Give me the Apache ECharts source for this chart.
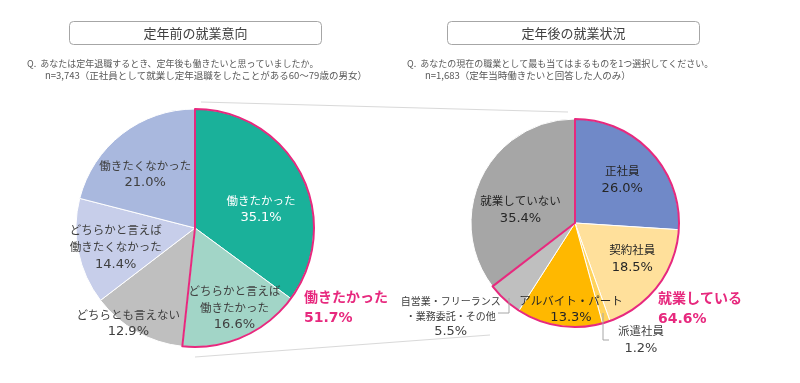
<!DOCTYPE html>
<html>
<head>
<meta charset="utf-8">
<script src="https://cdn.jsdelivr.net/npm/echarts@6/dist/echarts.min.js"></script>
<style>
html,body{margin:0;padding:0;background:#fff;}
#chart{width:800px;height:383px;}
</style>
</head>
<body>
<div id="chart"></div>
<script>
// ---- data ----
const leftTitle = '定年前の就業意向';
const rightTitle = '定年後の就業状況';
const leftQuestion = ['Q.  あなたは定年退職するとき、定年後も働きたいと思っていましたか。', 'n=3,743（正社員として就業し定年退職をしたことがある60～79歳の男女）'];
const rightQuestion = ['Q.  あなたの現在の職業として最も当てはまるものを1つ選択してください。', 'n=1,683（定年当時働きたいと回答した人のみ）'];

const leftCategories = ['働きたかった', 'どちらかと言えば\n働きたかった', 'どちらとも言えない', 'どちらかと言えば\n働きたくなかった', '働きたくなかった'];
const leftValues = [35.1, 16.6, 12.9, 14.4, 21.0];
const leftGroupLabel = '働きたかった';
const leftGroupValue = 51.7;
const leftGroupCount = 2;

const rightCategories = ['正社員', '契約社員', '派遣社員', 'アルバイト・パート', '自営業・フリーランス\n・業務委託・その他', '就業していない'];
const rightValues = [26.0, 18.5, 1.2, 13.3, 5.5, 35.4];
const rightGroupLabel = '就業している';
const rightGroupValue = 64.6;
const rightGroupCount = 5;

// ---- styles / layout ----
const leftColors = ['#1AB19A', '#A2D5C7', '#BFBFBF', '#C7CEEA', '#A9B8DE'];
const leftLabelColors = ['#ffffff', '#404040', '#404040', '#404040', '#404040'];
const leftOffsets = [[-8, 19], [6, 4], [-26, 23], [2, 3], [1, 12]];
const rightColors = ['#7089C8', '#FFE09B', '#FFD35C', '#FFB800', '#BFBFBF', '#A6A6A6'];
const rightLabelColors = ['#262626', '#262626', '#404040', '#262626', '#404040', '#262626'];
const rightOffsets = [[-6, 7], [-1, -8], [44, 47], [7, 14], [-75, 40], [11, 19]];
const rightNameSize = [11.5, 11.5, 11.5, 11.5, 10, 11.5];
const rightLineHeight = [17, 17, 17, 17, 15, 17];

const PINK = '#E7297E';
const LC = [195, 228], LR = 119;
const RC = [575, 223], RR = 104;
const JP = '"Noto Sans CJK JP", "Noto Sans", sans-serif';
const NUM = '"DejaVu Sans", "Noto Sans CJK JP", sans-serif';

function richLabel(name, value) {
  const lines = name.split('\n').map(l => '{n|' + l + '}');
  return lines.join('\n') + '\n{p|' + value.toFixed(1) + '%}';
}

function mainPie(center, radius, cats, vals, colors) {
  return {
    type: 'pie', center: center, radius: radius, startAngle: 90, clockwise: true,
    silent: true, animation: false, label: {show: false}, labelLine: {show: false},
    itemStyle: {borderColor: '#ffffff', borderWidth: 1},
    data: cats.map((c, i) => ({name: c, value: vals[i], itemStyle: {color: colors[i]}})),
    z: 2
  };
}

function labelPie(center, r0, r1, cats, vals, labelColors, offsets, nameSizes, lineHeights) {
  return {
    type: 'pie', center: center, radius: [r0, r1], startAngle: 90, clockwise: true,
    silent: true, animation: false, avoidLabelOverlap: false, labelLine: {show: false},
    data: cats.map((c, i) => {
      const ns = nameSizes ? nameSizes[i] : 11.5;
      const lh = lineHeights ? lineHeights[i] : 17;
      return {
        name: c, value: vals[i],
        itemStyle: {color: 'rgba(0,0,0,0)', borderWidth: 0},
        label: {
          show: true, position: 'inside', offset: offsets[i],
          formatter: () => richLabel(c, vals[i]),
          rich: {
            n: {fontFamily: JP, fontSize: ns, color: labelColors[i], lineHeight: lh, align: 'center'},
            p: {fontFamily: NUM, fontSize: 13, color: labelColors[i], lineHeight: lh + 1, align: 'center'}
          }
        }
      };
    }),
    z: 5
  };
}

function outlinePie(center, radius, vals, count) {
  const inGroup = vals.slice(0, count).reduce((a, b) => a + b, 0);
  const rest = vals.slice(count).reduce((a, b) => a + b, 0);
  return {
    type: 'pie', center: center, radius: radius, startAngle: 90, clockwise: true,
    silent: true, animation: false, label: {show: false}, labelLine: {show: false},
    data: [
      {value: inGroup, itemStyle: {color: 'rgba(0,0,0,0)', borderColor: PINK, borderWidth: 2}},
      {value: rest, itemStyle: {color: 'rgba(0,0,0,0)', borderWidth: 0}}
    ],
    z: 4
  };
}

function titleBox(x, y, w, h, text) {
  return {
    type: 'group', left: x, top: y,
    children: [
      {type: 'rect', shape: {x: 0, y: 0, width: w, height: h, r: 4},
       style: {fill: '#ffffff', stroke: '#A6A6A6', lineWidth: 1}},
      {type: 'text', x: w / 2, y: h / 2,
       style: {text: text, fill: '#404040', font: '13px ' + JP, textAlign: 'center', textVerticalAlign: 'middle'}}
    ]
  };
}

function qText(x1, x2, y1, y2, lines) {
  return [
    {type: 'text', left: x1, top: y1, style: {text: lines[0], fill: '#595959', font: '9px ' + JP}},
    {type: 'text', left: x2, top: y2, style: {text: lines[1], fill: '#595959', font: '9.5px ' + JP}}
  ];
}

function groupText(x, y, label, value) {
  return {
    type: 'text', left: x, top: y,
    style: {
      text: '{a|' + label + '}\n{b|' + value.toFixed(1) + '%}',
      rich: {
        a: {fontFamily: JP, fontWeight: 'bold', fontSize: 14, fill: PINK, color: PINK, lineHeight: 21},
        b: {fontFamily: NUM, fontWeight: 'bold', fontSize: 14, fill: PINK, color: PINK, lineHeight: 21}
      }
    }
  };
}

const chart = echarts.init(document.getElementById('chart'), null, {renderer: 'canvas'});
const lineStyle = {stroke: '#D9D9D9', lineWidth: 1};
const leaderStyle = {stroke: '#A6A6A6', lineWidth: 1, fill: null};

chart.setOption({
  backgroundColor: '#ffffff',
  animation: false,
  series: [
    mainPie(LC, LR, leftCategories, leftValues, leftColors),
    outlinePie(LC, LR, leftValues, leftGroupCount),
    labelPie(LC, 40, 120, leftCategories, leftValues, leftLabelColors, leftOffsets, null, null),
    mainPie(RC, RR, rightCategories, rightValues, rightColors),
    outlinePie(RC, RR, rightValues, rightGroupCount),
    labelPie(RC, 30, 110, rightCategories, rightValues, rightLabelColors, rightOffsets, rightNameSize, rightLineHeight)
  ],
  graphic: [
    {type: 'line', shape: {x1: 201, y1: 102, x2: 568, y2: 112}, style: lineStyle, z: 0},
    {type: 'line', shape: {x1: 195, y1: 357, x2: 490, y2: 335}, style: lineStyle, z: 0},
    titleBox(69, 21, 252, 23, leftTitle),
    titleBox(447, 21, 252, 23, rightTitle),
    ...qText(27, 45, 59, 71, leftQuestion),
    ...qText(407, 425, 59, 71, rightQuestion),
    {type: 'polyline', shape: {points: [[603, 313], [603, 340], [609, 340]]}, style: leaderStyle, z: 10},
    {type: 'polyline', shape: {points: [[509, 298], [509, 313], [498, 313]]}, style: leaderStyle, z: 10},
    groupText(304, 290, leftGroupLabel, leftGroupValue),
    groupText(658, 291, rightGroupLabel, rightGroupValue)
  ]
});
</script>
</body>
</html>
